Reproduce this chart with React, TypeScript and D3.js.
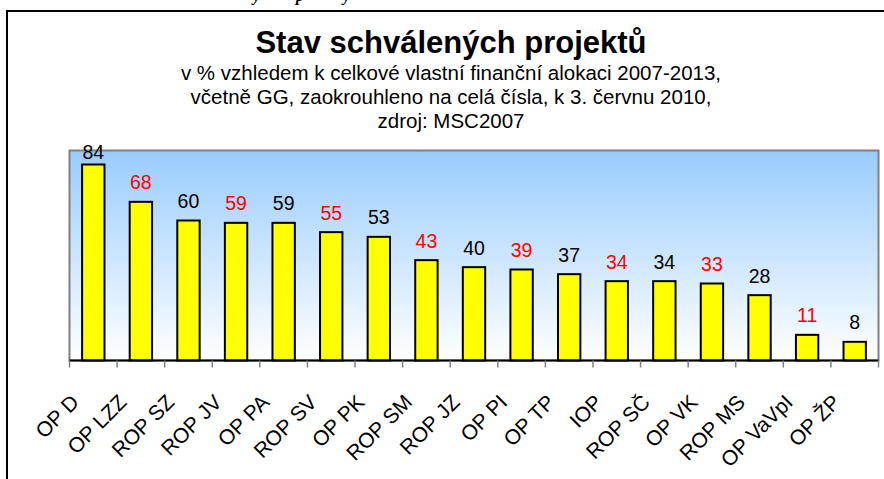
import React from 'react';
import * as d3 from 'd3';

// approved projects, % of own allocation 2007-2013
const categories = [
  'OP D', 'OP LZZ', 'ROP SZ', 'ROP JV', 'OP PA', 'ROP SV', 'OP PK', 'ROP SM', 'ROP JZ',
  'OP PI', 'OP TP', 'IOP', 'ROP SČ', 'OP VK', 'ROP MS', 'OP VaVpI', 'OP ŽP',
];
const values = [84, 68, 60, 59, 59, 55, 53, 43, 40, 39, 37, 34, 34, 33, 28, 11, 8];
// labels alternate black / red
const labelColors = categories.map((_, i) => (i % 2 === 1 ? '#ff0000' : '#000000'));

const subtitleLines = [
  'v % vzhledem k celkové vlastní finanční alokaci 2007-2013,',
  'včetně GG, zaokrouhleno na celá čísla, k 3. červnu 2010,',
  'zdroj: MSC2007',
];

const width = 884;
const height = 479;
const plot = { left: 69.5, right: 878.5, top: 150.5, bottom: 360.5 };
const font = 'Arial, "Liberation Sans", sans-serif';

export default function App() {
  const x = d3
    .scaleBand<string>()
    .domain(categories)
    .range([plot.left, plot.right])
    .paddingInner(0.53)
    .paddingOuter(0.265);
  const y = d3.scaleLinear().domain([0, 90]).range([plot.bottom, plot.top]);
  const step = x.step();
  const ticks = d3.range(categories.length + 1).map((i) => plot.left + i * step);

  return (
    <svg
      width={width}
      height={height}
      style={{ position: 'absolute', left: 0, top: 0, background: '#fff' }}
    >
      <defs>
        <linearGradient id="bg" x1="0" y1="0" x2="0" y2="1">
          <stop offset="0%" stopColor="#99ccff" />
          <stop offset="100%" stopColor="#ffffff" />
        </linearGradient>
      </defs>

      {/* cut-off heading of the page above */}
      <text
        y={1}
        fontFamily='"Liberation Serif", "DejaVu Serif", serif'
        fontStyle="italic"
        fontWeight="bold"
        fontSize={16}
      >
        <tspan x={253}>y</tspan>
        <tspan x={296}>p</tspan>
        <tspan x={343}>y</tspan>
      </text>

      {/* outer frame */}
      <path d={`M7,${height} V11 H${width}`} fill="none" stroke="#000" strokeWidth={2} />

      <text x={451} y={53} textAnchor="middle" fontFamily={font} fontWeight="bold" fontSize={31}>
        Stav schválených projektů
      </text>
      {subtitleLines.map((line, i) => (
        <text key={i} x={451} y={80 + i * 24} textAnchor="middle" fontFamily={font} fontSize={20.5}>
          {line}
        </text>
      ))}

      <rect
        x={plot.left}
        y={plot.top}
        width={plot.right - plot.left}
        height={plot.bottom - plot.top}
        fill="url(#bg)"
        stroke="#808080"
        strokeWidth={2}
      />

      {values.map((v, i) => (
        <rect
          key={categories[i]}
          x={x(categories[i])}
          y={y(v)}
          width={x.bandwidth()}
          height={plot.bottom - y(v)}
          fill="#ffff00"
          stroke="#000"
          strokeWidth={2}
        />
      ))}

      {values.map((v, i) => (
        <text
          key={categories[i]}
          x={(x(categories[i]) as number) + x.bandwidth() / 2}
          y={Math.max(y(v) - 12.5, plot.top + 8)}
          textAnchor="middle"
          fontFamily={font}
          fontSize={19.5}
          fill={labelColors[i]}
        >
          {v}
        </text>
      ))}

      {/* category axis */}
      <line x1={plot.left} x2={plot.right} y1={plot.bottom} y2={plot.bottom} stroke="#000" strokeWidth={2} />
      {ticks.map((t, i) => (
        <line key={i} x1={t} x2={t} y1={plot.bottom} y2={plot.bottom + 7} stroke="#808080" strokeWidth={1.5} />
      ))}
      {categories.map((c) => {
        const cx = (x(c) as number) + x.bandwidth() / 2;
        return (
          <text
            key={c}
            transform={`translate(${cx - 13},${plot.bottom + 43}) rotate(-45)`}
            textAnchor="end"
            fontFamily={font}
            fontSize={21}
          >
            {c}
          </text>
        );
      })}
    </svg>
  );
}
